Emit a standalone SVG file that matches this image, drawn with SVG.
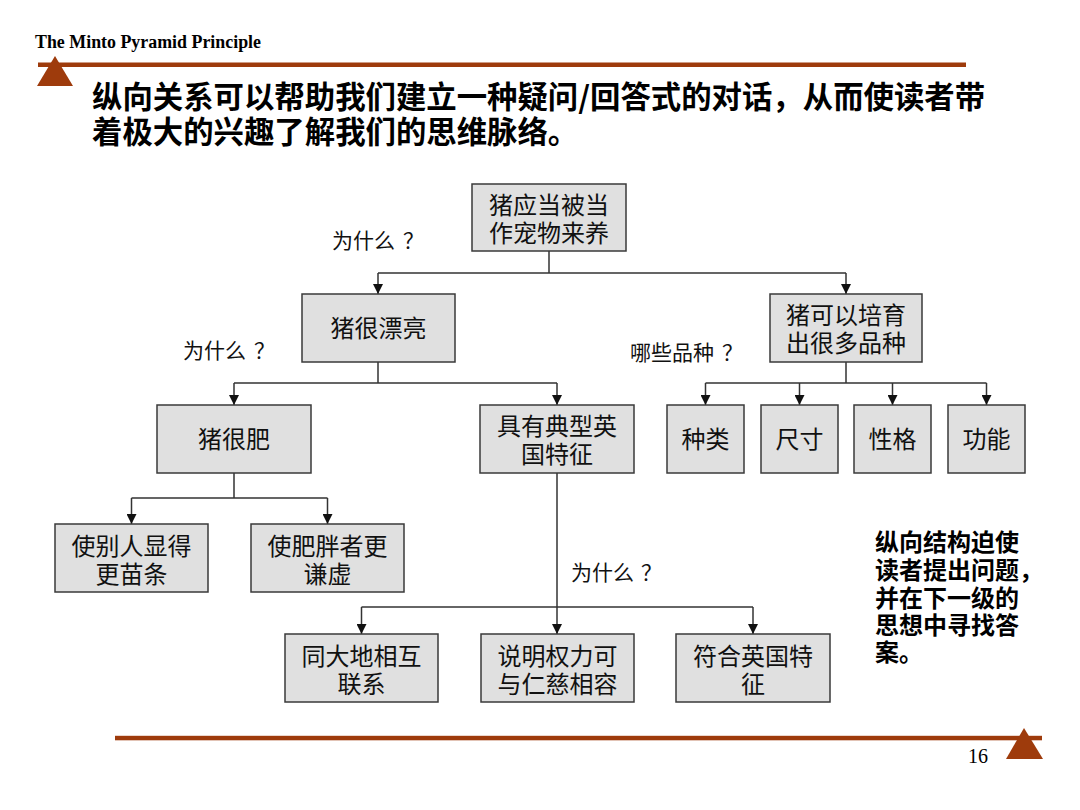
<svg xmlns="http://www.w3.org/2000/svg" width="1080" height="810" viewBox="0 0 1080 810">
<style>
.hdr{font-family:"Liberation Serif","Times New Roman",serif;font-weight:bold;font-size:18px;fill:#000}
.title{font-family:"Noto Sans CJK SC","Noto Sans",sans-serif;font-weight:bold;font-size:30.4px;fill:#000}
.box{fill:#E0E0E0;stroke:#3a3a3a;stroke-width:1.5}
.bt{font-family:"Noto Sans CJK SC","Noto Sans",sans-serif;font-size:24px;fill:#111;text-anchor:middle}
.lbl{font-family:"Noto Sans CJK SC","Noto Sans",sans-serif;font-size:21px;fill:#111}
.note{font-family:"Noto Sans CJK SC","Noto Sans",sans-serif;font-weight:bold;font-size:24px;fill:#000}
.cn{fill:none;stroke:#333;stroke-width:1.5}
.acc{fill:#9E3B0C}
.pg{font-family:"Liberation Serif","Times New Roman",serif;font-size:20px;fill:#000}
</style>
<defs>
<marker id="arr" markerUnits="userSpaceOnUse" viewBox="0 0 10 10" markerWidth="10" markerHeight="10" refX="10" refY="5" orient="auto">
<path d="M0,0 L10,5 L0,10 z" fill="#111"/>
</marker>
</defs>
<rect width="1080" height="810" fill="#fff"/>

<g id="header">
<text class="hdr" x="35" y="48" textLength="226" lengthAdjust="spacingAndGlyphs">The Minto Pyramid Principle</text>
<rect class="acc" x="38" y="62.5" width="928" height="4.5"/>
<polygon class="acc" points="55,56 73,86 37,86"/>
<text class="title" x="92" y="108">纵向关系可以帮助我们建立一种疑问/回答式的对话，从而使读者带</text>
<text class="title" x="92" y="143">着极大的兴趣了解我们的思维脉络。</text>
</g>

<g id="connectors">
<path class="cn" d="M549,251 V273 M378,273 H846"/>
<path class="cn" d="M378,273 V294" marker-end="url(#arr)"/>
<path class="cn" d="M846,273 V294" marker-end="url(#arr)"/>
<path class="cn" d="M378,362 V383 M234,383 H557"/>
<path class="cn" d="M234,383 V405" marker-end="url(#arr)"/>
<path class="cn" d="M557,383 V405" marker-end="url(#arr)"/>
<path class="cn" d="M846,362 V383 M705.5,383 H986.5"/>
<path class="cn" d="M705.5,383 V405" marker-end="url(#arr)"/>
<path class="cn" d="M799.5,383 V405" marker-end="url(#arr)"/>
<path class="cn" d="M892.5,383 V405" marker-end="url(#arr)"/>
<path class="cn" d="M986.5,383 V405" marker-end="url(#arr)"/>
<path class="cn" d="M234,473 V498 M131.5,498 H327.5"/>
<path class="cn" d="M131.5,498 V524" marker-end="url(#arr)"/>
<path class="cn" d="M327.5,498 V524" marker-end="url(#arr)"/>
<path class="cn" d="M557,473 V634" marker-end="url(#arr)"/>
<path class="cn" d="M361.5,607 H753"/>
<path class="cn" d="M361.5,607 V634" marker-end="url(#arr)"/>
<path class="cn" d="M753,607 V634" marker-end="url(#arr)"/>
</g>

<g id="labels">
<text class="lbl" x="332" y="248">为什么<tspan dx="8">？</tspan></text>
<text class="lbl" x="183" y="358">为什么<tspan dx="8">？</tspan></text>
<text class="lbl" x="630" y="360">哪些品种<tspan dx="8">？</tspan></text>
<text class="lbl" x="571" y="580">为什么<tspan dx="7">？</tspan></text>
</g>

<g id="n1"><rect class="box" x="472" y="184" width="154" height="67"/>
<text class="bt" x="549" y="214">猪应当被当</text><text class="bt" x="549" y="242">作宠物来养</text></g>
<g id="n2"><rect class="box" x="302" y="294" width="153" height="68"/>
<text class="bt" x="378.5" y="337">猪很漂亮</text></g>
<g id="n3"><rect class="box" x="770" y="294" width="152" height="68"/>
<text class="bt" x="846" y="324">猪可以培育</text><text class="bt" x="846" y="352">出很多品种</text></g>
<g id="n4"><rect class="box" x="157" y="405" width="154" height="68"/>
<text class="bt" x="234" y="448">猪很肥</text></g>
<g id="n5"><rect class="box" x="480" y="405" width="154" height="68"/>
<text class="bt" x="557" y="435">具有典型英</text><text class="bt" x="557" y="463">国特征</text></g>
<g id="n6"><rect class="box" x="667" y="405" width="77" height="68"/>
<text class="bt" x="705.5" y="448">种类</text></g>
<g id="n7"><rect class="box" x="761" y="405" width="77" height="68"/>
<text class="bt" x="799.5" y="448">尺寸</text></g>
<g id="n8"><rect class="box" x="854" y="405" width="77" height="68"/>
<text class="bt" x="892.5" y="448">性格</text></g>
<g id="n9"><rect class="box" x="948" y="405" width="77" height="68"/>
<text class="bt" x="986.5" y="448">功能</text></g>
<g id="n10"><rect class="box" x="55" y="524" width="153" height="68"/>
<text class="bt" x="131.5" y="555">使别人显得</text><text class="bt" x="131.5" y="583">更苗条</text></g>
<g id="n11"><rect class="box" x="251" y="524" width="153" height="68"/>
<text class="bt" x="327.5" y="555">使肥胖者更</text><text class="bt" x="327.5" y="583">谦虚</text></g>
<g id="n12"><rect class="box" x="285" y="634" width="153" height="68"/>
<text class="bt" x="361.5" y="665">同大地相互</text><text class="bt" x="361.5" y="693">联系</text></g>
<g id="n13"><rect class="box" x="481" y="634" width="153" height="68"/>
<text class="bt" x="557.5" y="665">说明权力可</text><text class="bt" x="557.5" y="693">与仁慈相容</text></g>
<g id="n14"><rect class="box" x="676" y="634" width="154" height="68"/>
<text class="bt" x="753" y="665">符合英国特</text><text class="bt" x="753" y="693">征</text></g>

<g id="note">
<text class="note" x="875" y="551">纵向结构迫使</text>
<text class="note" x="875" y="579">读者提出问题，</text>
<text class="note" x="875" y="607">并在下一级的</text>
<text class="note" x="875" y="634">思想中寻找答</text>
<text class="note" x="875" y="661">案。</text>
</g>

<g id="footer">
<rect class="acc" x="115" y="735.8" width="927" height="4.5"/>
<polygon class="acc" points="1024,728 1043,759 1006,759"/>
<text class="pg" x="968" y="763">16</text>
</g>
</svg>
